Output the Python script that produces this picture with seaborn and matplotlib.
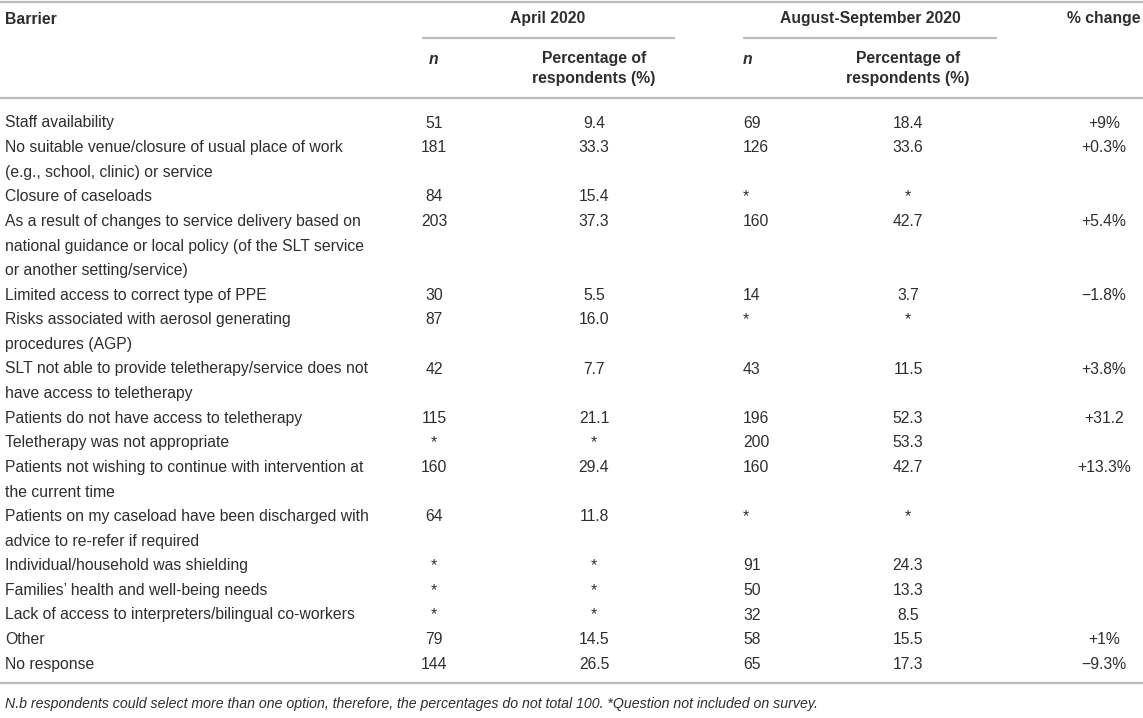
import numpy as np
import pandas as pd
import seaborn as sns
import matplotlib.pyplot as plt

# Table contents
barriers = [
    "Staff availability",
    "No suitable venue/closure of usual place of work\n(e.g., school, clinic) or service",
    "Closure of caseloads",
    "As a result of changes to service delivery based on\nnational guidance or local policy (of the SLT service\nor another setting/service)",
    "Limited access to correct type of PPE",
    "Risks associated with aerosol generating\nprocedures (AGP)",
    "SLT not able to provide teletherapy/service does not\nhave access to teletherapy",
    "Patients do not have access to teletherapy",
    "Teletherapy was not appropriate",
    "Patients not wishing to continue with intervention at\nthe current time",
    "Patients on my caseload have been discharged with\nadvice to re-refer if required",
    "Individual/household was shielding",
    "Families\u2019 health and well-being needs",
    "Lack of access to interpreters/bilingual co-workers",
    "Other",
    "No response",
]
april_n = [51, 181, 84, 203, 30, 87, 42, 115, None, 160, 64, None, None, None, 79, 144]
april_pct = [9.4, 33.3, 15.4, 37.3, 5.5, 16.0, 7.7, 21.1, None, 29.4, 11.8, None, None, None, 14.5, 26.5]
aug_n = [69, 126, None, 160, 14, None, 43, 196, 200, 160, None, 91, 50, 32, 58, 65]
aug_pct = [18.4, 33.6, None, 42.7, 3.7, None, 11.5, 52.3, 53.3, 42.7, None, 24.3, 13.3, 8.5, 15.5, 17.3]
pct_change = ["+9%", "+0.3%", "", "+5.4%", "\u22121.8%", "", "+3.8%", "+31.2", "",
              "+13.3%", "", "", "", "", "+1%", "\u22129.3%"]

footnote = ("N.b respondents could select more than one option, therefore, the percentages "
            "do not total 100. *Question not included on survey.")

df = pd.DataFrame({
    "barrier": barriers,
    "april_n": april_n, "april_pct": april_pct,
    "aug_n": aug_n, "aug_pct": aug_pct,
    "change": pct_change,
})


def fmt_int(v):
    return "*" if v is None or pd.isna(v) else f"{int(v)}"


def fmt_pct(v):
    return "*" if v is None or pd.isna(v) else f"{v:.1f}"


sns.set_theme(style="white")
plt.rcParams['font.family'] = ['Liberation Sans', 'DejaVu Sans']

W, H = 1143, 718
fig = plt.figure(figsize=(W / 100, H / 100), dpi=100)
ax = fig.add_axes([0, 0, 1, 1])
ax.set_xlim(0, W)
ax.set_ylim(H, 0)
ax.axis("off")

txt = "#2e2e2e"
rule = "#bdbdbd"
fs = 11.3

# column positions
x_bar = 5
x_an, x_ap = 434, 594
x_gn, x_gp = 743, 908
x_ch = 1104

# body layout
y0, dy = 123, 24.6
n_lines = sum(len(b.split("\n")) for b in barriers)
y_last = y0 + (n_lines - 1) * dy
y_bottom = y_last + 19

# rules
ax.hlines([2, 98, y_bottom], 0, W, color=rule, lw=1.6)
ax.hlines(38, 422, 675, color=rule, lw=1.6)
ax.hlines(38, 743, 997, color=rule, lw=1.6)

# header
hk = dict(fontsize=fs, color=txt, weight="bold", va="center")
ax.text(x_bar, 19, "Barrier", ha="left", **hk)
ax.text(548, 19, "April 2020", ha="center", **hk)
ax.text(870, 19, "August-September 2020", ha="center", **hk)
ax.text(x_ch, 19, "% change", ha="center", **hk)
ax.text(x_an, 59, "n", ha="center", style="italic", **hk)
ax.text(x_gn, 59, "n", ha="left", style="italic", **hk)
for xp in (x_ap, x_gp):
    ax.text(xp, 59, "Percentage of", ha="center", **hk)
    ax.text(xp, 79, "respondents (%)", ha="center", **hk)

# body
line = 0
bk = dict(fontsize=fs, color=txt, va="center")
for _, r in df.iterrows():
    y = y0 + line * dy
    parts = r["barrier"].split("\n")
    for i, p in enumerate(parts):
        ax.text(x_bar, y + i * dy, p, ha="left", **bk)
    ax.text(x_an, y, fmt_int(r["april_n"]), ha="center", **bk)
    ax.text(x_ap, y, fmt_pct(r["april_pct"]), ha="center", **bk)
    ax.text(x_gn, y, fmt_int(r["aug_n"]), ha="left", **bk)
    ax.text(x_gp, y, fmt_pct(r["aug_pct"]), ha="center", **bk)
    ax.text(x_ch, y, r["change"], ha="center", **bk)
    line += len(parts)

ax.text(x_bar, y_bottom + 21, footnote, ha="left", va="center", fontsize=10.2,
        style="italic", color=txt)

fig.savefig("out.png", dpi=100)
